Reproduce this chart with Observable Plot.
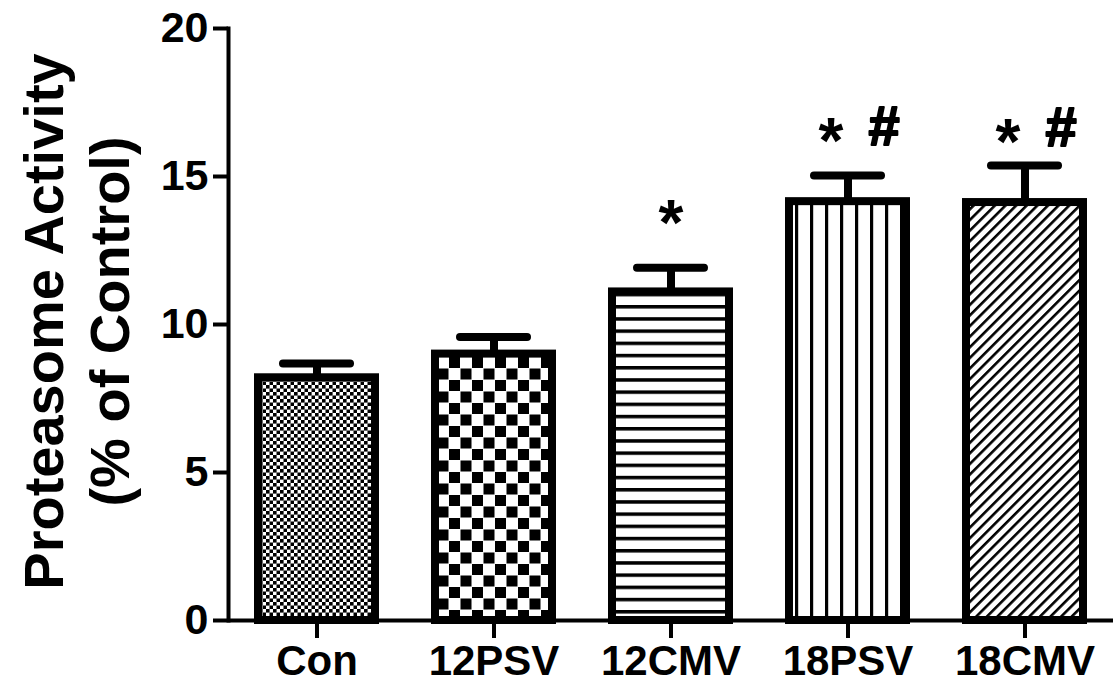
<!DOCTYPE html>
<html>
<head>
<meta charset="utf-8">
<script src="https://cdn.jsdelivr.net/npm/d3@7"></script>
<script src="https://cdn.jsdelivr.net/npm/@observablehq/plot@0.6"></script>
<style>
  html, body { margin: 0; padding: 0; background: #fff; }
  svg { font-family: "Liberation Sans", Arial, sans-serif; font-weight: bold; }
</style>
</head>
<body>
<div id="chart"></div>
<script>
// Data
const categories = ["Con", "12PSV", "12CMV", "18PSV", "18CMV"];
const means = [8.2, 9.0, 11.1, 14.15, 14.12];
const errors = [0.48, 0.58, 0.82, 0.88, 1.25];
const stars = ["", "", "*", "*", "*"];
const hashes = ["", "", "", "#", "#"];
const yTicks = [0, 5, 10, 15, 20];
const yLabelLines = ["Proteasome Activity", "(% of Control)"];
const patternIds = ["pCon", "p12PSV", "p12CMV", "p18PSV", "p18CMV"];

const data = categories.map((c, i) => ({
  cat: c, mean: means[i], err: errors[i], top: means[i] + errors[i],
  star: stars[i], hash: hashes[i], pat: patternIds[i]
}));

const bars = data.map(d => Plot.barY([d], {
  x: "cat", y: "mean", fill: `url(#${d.pat})`, stroke: "#000", strokeWidth: 8
}));

const chart = Plot.plot({
  width: 1118,
  height: 688,
  marginLeft: 228,
  marginRight: 5,
  marginTop: 28,
  marginBottom: 68,
  style: { background: "#fff", color: "#000", overflow: "visible" },
  x: { domain: categories, paddingInner: 0.34, paddingOuter: 0.17, align: 0.5 },
  y: { domain: [0, 20] },
  marks: [
    ...bars,
    Plot.ruleX(data, { x: "cat", y1: "mean", y2: "top", stroke: "#000", strokeWidth: 8 }),
    Plot.tickY(data, { x: "cat", y: "top", stroke: "#000", strokeWidth: 8, insetLeft: 25, insetRight: 25, strokeLinecap: "round" }),
    Plot.ruleY([0], { stroke: "#000", strokeWidth: 4 }),
    Plot.frame({ anchor: "left", stroke: "#000", strokeWidth: 4 }),
    Plot.axisY({ ticks: yTicks, tickSize: 15, tickPadding: 5, strokeWidth: 4, fontSize: 43, fontWeight: "bold", label: null }),
    Plot.axisX({ tickSize: 18, tickPadding: 7, strokeWidth: 4, fontSize: 42, fontWeight: "bold", label: null }),
    Plot.text(data.filter(d => d.star && !d.hash), { x: "cat", y: "mean", text: "star", dy: -47, fontSize: 64, fontWeight: "bold", lineAnchor: "bottom" }),
    Plot.text(data.filter(d => d.star && d.hash), { x: "cat", y: "mean", text: "star", dx: -17, dy: -39, fontSize: 64, fontWeight: "bold", lineAnchor: "bottom" }),
    Plot.text(data.filter(d => d.hash), { x: "cat", y: "mean", text: "hash", dx: 36, dy: -57, fontSize: 56, fontWeight: "bold", fill: "#000", stroke: "#000", strokeWidth: 2, lineAnchor: "bottom" }),
    Plot.text([yLabelLines[0]], { frameAnchor: "left", textAnchor: "middle", rotate: -90, dx: -166, dy: -3, fontSize: 56, fontWeight: "bold", lineAnchor: "bottom" }),
    Plot.text([yLabelLines[1]], { frameAnchor: "left", textAnchor: "middle", rotate: -90, dx: -100, dy: -3, fontSize: 56, fontWeight: "bold", lineAnchor: "bottom" })
  ]
});

// Hatch patterns for the bars
const defs = d3.select(chart).insert("defs", ":first-child");
// Con: fine checker
let p = defs.append("pattern").attr("id", "pCon").attr("patternUnits", "userSpaceOnUse").attr("width", 7).attr("height", 7);
p.append("rect").attr("width", 7).attr("height", 7).attr("fill", "#fff");
p.append("rect").attr("width", 3.6).attr("height", 3.6).attr("fill", "#000");
p.append("rect").attr("x", 3.5).attr("y", 3.5).attr("width", 3.6).attr("height", 3.6).attr("fill", "#000");
// 12PSV: coarse checker
p = defs.append("pattern").attr("id", "p12PSV").attr("patternUnits", "userSpaceOnUse").attr("width", 23).attr("height", 23);
p.append("rect").attr("width", 23).attr("height", 23).attr("fill", "#fff");
p.append("rect").attr("x", 0.5).attr("y", 0.5).attr("width", 11).attr("height", 11).attr("fill", "#000");
p.append("rect").attr("x", 12).attr("y", 12).attr("width", 11).attr("height", 11).attr("fill", "#000");
// 12CMV: horizontal lines
p = defs.append("pattern").attr("id", "p12CMV").attr("patternUnits", "userSpaceOnUse").attr("width", 12).attr("height", 12.2);
p.append("rect").attr("width", 12).attr("height", 12.2).attr("fill", "#fff");
p.append("rect").attr("y", 0).attr("width", 12).attr("height", 3.5).attr("fill", "#000");
// 18PSV: vertical lines
p = defs.append("pattern").attr("id", "p18PSV").attr("patternUnits", "userSpaceOnUse").attr("width", 15).attr("height", 15);
p.append("rect").attr("width", 15).attr("height", 15).attr("fill", "#fff");
p.append("rect").attr("x", 0).attr("width", 3.2).attr("height", 15).attr("fill", "#000");
// 18CMV: diagonal lines "/"
p = defs.append("pattern").attr("id", "p18CMV").attr("patternUnits", "userSpaceOnUse").attr("width", 7.5).attr("height", 7.5).attr("patternTransform", "rotate(45)");
p.append("rect").attr("width", 7.5).attr("height", 7.5).attr("fill", "#fff");
p.append("rect").attr("x", 0).attr("width", 2.6).attr("height", 7.5).attr("fill", "#000");

document.getElementById("chart").append(chart);
</script>
</body>
</html>
